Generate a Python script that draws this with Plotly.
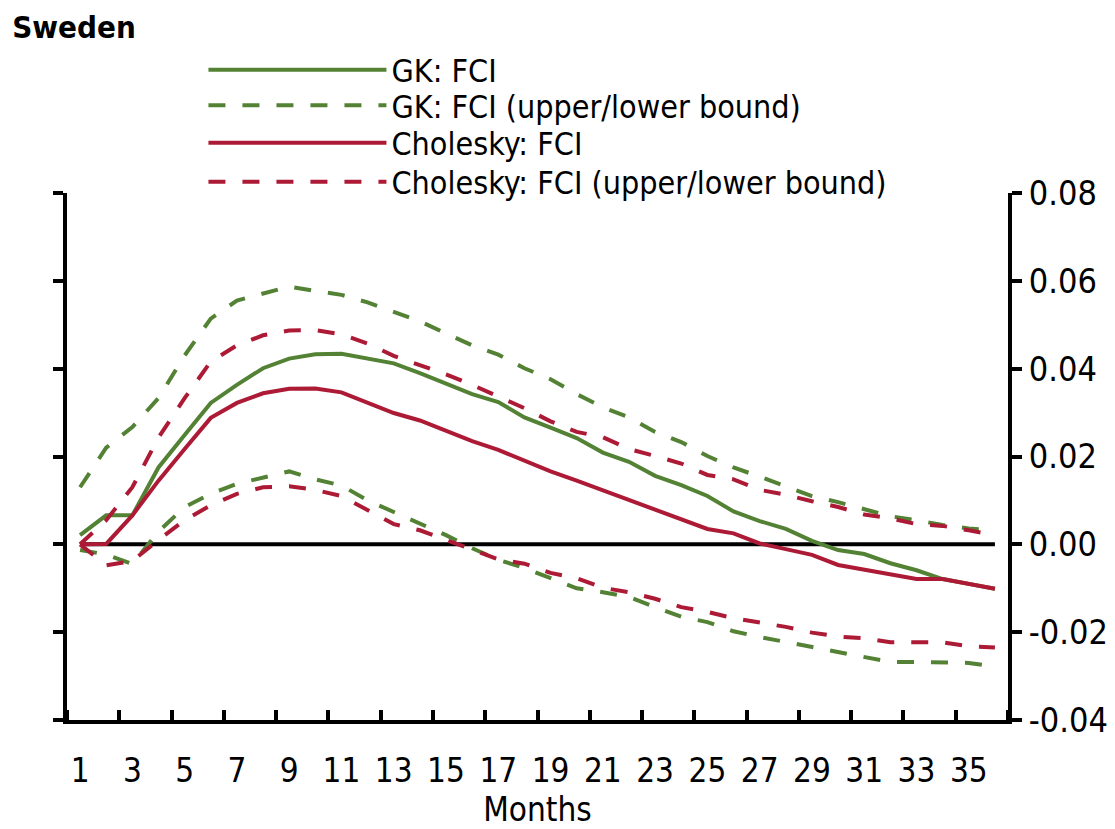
import plotly.graph_objects as go

months = list(range(1, 37))
tick_labels = [str(m) for m in range(1, 37, 2)]
y_ticks = [-0.04, -0.02, 0.0, 0.02, 0.04, 0.06, 0.08]
y_tick_labels = ["-0.04", "-0.02", "0.00", "0.02", "0.04", "0.06", "0.08"]

gk_fci = [0.0021, 0.0066, 0.0066, 0.0175, 0.0249, 0.0322, 0.0363, 0.0401, 0.0423, 0.0433,
          0.0434, 0.0423, 0.0412, 0.0390, 0.0367, 0.0342, 0.0324, 0.0289, 0.0266, 0.0242,
          0.0209, 0.0188, 0.0156, 0.0135, 0.0110, 0.0075, 0.0053, 0.0035, 0.0008, -0.0013,
          -0.0022, -0.0043, -0.0059, -0.0079, -0.0090, -0.0101]
gk_upper = [0.0130, 0.0220, 0.0267, 0.0333, 0.0430, 0.0514, 0.0555, 0.0572, 0.0587, 0.0577,
            0.0568, 0.0551, 0.0530, 0.0508, 0.0480, 0.0453, 0.0432, 0.0401, 0.0376, 0.0342,
            0.0312, 0.0289, 0.0256, 0.0233, 0.0201, 0.0175, 0.0154, 0.0133, 0.0110, 0.0096,
            0.0079, 0.0064, 0.0055, 0.0044, 0.0036, 0.0031]
gk_lower = [-0.0013, -0.0023, -0.0045, 0.0029, 0.0085, 0.0115, 0.0138, 0.0153, 0.0166, 0.0148,
            0.0134, 0.0100, 0.0074, 0.0047, 0.0021, -0.0009, -0.0035, -0.0054, -0.0077, -0.0100,
            -0.0109, -0.0120, -0.0143, -0.0165, -0.0177, -0.0198, -0.0211, -0.0222, -0.0235, -0.0246,
            -0.0257, -0.0268, -0.0268, -0.0268, -0.0270, -0.0278]
chol_fci = [0.0000, 0.0001, 0.0066, 0.0145, 0.0217, 0.0288, 0.0322, 0.0344, 0.0354, 0.0355,
            0.0346, 0.0322, 0.0299, 0.0282, 0.0258, 0.0235, 0.0215, 0.0190, 0.0166, 0.0145,
            0.0123, 0.0099, 0.0077, 0.0056, 0.0035, 0.0025, 0.0002, -0.0011, -0.0024, -0.0047,
            -0.0058, -0.0069, -0.0079, -0.0079, -0.0090, -0.0101]
chol_upper = [0.0000, 0.0055, 0.0130, 0.0243, 0.0333, 0.0416, 0.0453, 0.0476, 0.0487, 0.0488,
              0.0478, 0.0457, 0.0429, 0.0408, 0.0387, 0.0363, 0.0337, 0.0310, 0.0280, 0.0256,
              0.0244, 0.0217, 0.0201, 0.0184, 0.0158, 0.0148, 0.0124, 0.0113, 0.0098, 0.0085,
              0.0068, 0.0059, 0.0046, 0.0042, 0.0032, 0.0021]
chol_lower = [0.0000, -0.0048, -0.0038, 0.0010, 0.0055, 0.0089, 0.0115, 0.0130, 0.0132, 0.0124,
              0.0110, 0.0077, 0.0046, 0.0032, 0.0010, -0.0011, -0.0034, -0.0044, -0.0065, -0.0077,
              -0.0099, -0.0109, -0.0124, -0.0143, -0.0154, -0.0168, -0.0177, -0.0188, -0.0201, -0.0210,
              -0.0214, -0.0223, -0.0223, -0.0223, -0.0232, -0.0235]
zero_line = [0.0] * 36

GREEN = "#548235"
RED = "#AD1A35"
FONT = "DejaVu Sans Condensed, Liberation Sans Narrow, sans-serif"
DASH = "17px,17px"
LW = 4

fig = go.Figure()
fig.add_trace(go.Scatter(x=months, y=zero_line, mode="lines", line=dict(color="black", width=4),
                         showlegend=False, hoverinfo="skip"))
fig.add_trace(go.Scatter(x=months, y=gk_fci, mode="lines", name="GK: FCI",
                         line=dict(color=GREEN, width=LW), legend="legend"))
fig.add_trace(go.Scatter(x=months, y=gk_upper, mode="lines", name="GK: FCI (upper/lower bound)",
                         line=dict(color=GREEN, width=LW, dash=DASH), legendgroup="gkb", legend="legend2"))
fig.add_trace(go.Scatter(x=months, y=gk_lower, mode="lines", name="GK: FCI (upper/lower bound)",
                         line=dict(color=GREEN, width=LW, dash=DASH), legendgroup="gkb", showlegend=False))
fig.add_trace(go.Scatter(x=months, y=chol_fci, mode="lines", name="Cholesky: FCI",
                         line=dict(color=RED, width=LW), legend="legend3"))
fig.add_trace(go.Scatter(x=months, y=chol_upper, mode="lines", name="Cholesky: FCI (upper/lower bound)",
                         line=dict(color=RED, width=LW, dash=DASH), legendgroup="chb", legend="legend4"))
fig.add_trace(go.Scatter(x=months, y=chol_lower, mode="lines", name="Cholesky: FCI (upper/lower bound)",
                         line=dict(color=RED, width=LW, dash=DASH), legendgroup="chb", showlegend=False))


def leg(yc):
    return dict(x=0.145, xanchor="left", y=yc, yanchor="middle",
                bgcolor="rgba(0,0,0,0)", font=dict(family=FONT, size=32, color="black"),
                itemwidth=178, tracegroupgap=0)


fig.update_layout(
    width=1115, height=829,
    margin=dict(l=67, r=107, t=193, b=109),
    paper_bgcolor="white", plot_bgcolor="white",
    font=dict(family=FONT, size=32, color="black"),
    title=dict(text="<b>Sweden</b>", font=dict(family=FONT, size=31, color="black"),
               x=0.011, xanchor="left", xref="container",
               y=0.967, yanchor="middle", yref="container"),
    showlegend=True,
    legend=leg(1.2336),
    legend2=leg(1.1663),
    legend3=leg(1.0951),
    legend4=leg(1.0210),
    xaxis=dict(range=[0.5, 36.5], tickmode="array", tickvals=list(range(1, 37, 2)),
               ticktext=tick_labels, ticks="", showgrid=False, zeroline=False, automargin=False,
               showline=True, linecolor="black", linewidth=4, ticklabelstandoff=18,
               tickfont=dict(size=33),
               title=dict(text="Months", standoff=12, font=dict(size=33)),
               minor=dict(tickmode="array", tickvals=[0.5 + 2 * k for k in range(19)],
                          ticks="inside", ticklen=10, tickwidth=4, tickcolor="black", showgrid=False)),
    yaxis=dict(range=[-0.04, 0.08], side="right", tickmode="array", automargin=False,
               tickvals=y_ticks, ticktext=y_tick_labels, tickfont=dict(size=34),
               ticks="outside", ticklen=10, tickwidth=4, tickcolor="black",
               showline=True, linecolor="black", linewidth=4, mirror="ticks",
               showgrid=False, zeroline=False),
)

fig.write_html("out.html")
